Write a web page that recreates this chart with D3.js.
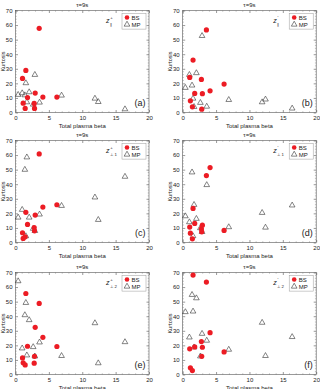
<!DOCTYPE html>
<html><head><meta charset="utf-8">
<script src="https://cdn.jsdelivr.net/npm/d3@7"></script>
<style>body{margin:0;background:#fff}svg{display:block}</style>
</head><body>
<script>
// Total plasma beta of each event (shared by all panels)
const betaBS = [1.05, 1.15, 1.45, 1.55, 1.8, 2.8, 2.85, 2.95, 3.55, 4.1, 6.2];
const betaMP = [0.4, 1.0, 1.4, 1.55, 1.7, 2.05, 2.65, 2.9, 3.6, 6.9, 11.9, 12.4, 16.4];

// Kurtosis values per panel
const kurtBS_a = [23.4, 6.4, 2.8, 28.9, 10.3, 6.2, 2.8, 13.3, 57.8, 10.6, 10.6];
const kurtMP_a = [12.2, 13.3, 11.9, 20.2, 7.1, 14.0, 5.5, 25.9, 6.9, 11.7, 9.6, 7.3, 2.3];
const kurtBS_b = [24.1, 8.0, 3.9, 36.0, 13.1, 22.7, 2.3, 12.9, 56.7, 14.9, 19.5];
const kurtMP_b = [17.0, 25.9, 18.6, 9.6, 3.9, 27.1, 6.7, 52.6, 4.1, 8.7, 7.1, 9.0, 2.8];
const kurtBS_c = [6.7, 2.8, 3.9, 20.7, 12.4, 10.3, 8.0, 18.8, 60.8, 24.3, 25.9];
const kurtMP_c = [17.2, 22.5, 50.0, 4.4, 58.5, 17.2, 9.5, 8.0, 19.3, 25.2, 31.0, 15.6, 45.2];
const kurtBS_d = [10.6, 6.4, 2.5, 23.4, 13.1, 9.4, 7.3, 11.9, 45.9, 51.4, 8.3];
const kurtMP_d = [18.1, 14.0, 48.2, 4.4, 25.9, 16.3, 9.9, 7.3, 39.5, 10.6, 20.4, 10.3, 25.5];
const kurtBS_e = [11.4, 8.0, 6.6, 55.6, 19.4, 7.8, 12.5, 32.4, 48.8, 25.5, 19.2];
const kurtMP_e = [64.1, 18.0, 40.8, 49.2, 13.2, 37.4, 18.9, 12.5, 22.1, 12.8, 35.3, 7.8, 22.3];
const kurtBS_f = [17.6, 4.6, 2.7, 68.2, 18.9, 22.6, 12.5, 18.7, 63.4, 28.7, 15.5];
const kurtMP_f = [42.9, 25.5, 54.7, 43.3, 18.7, 52.4, 12.5, 28.0, 23.3, 17.1, 35.6, 12.8, 25.8];

const panelLetters = ["(a)", "(b)", "(c)", "(d)", "(e)", "(f)"];
const panelSigns = ["+", "\u2032", "+", "\u2032", "+", "\u2032"];
const panelSubs = ["\u2225", "\u2225", "\u22A5 1", "\u22A5 1", "\u22A5 2", "\u22A5 2"];
const bsSets = [kurtBS_a, kurtBS_b, kurtBS_c, kurtBS_d, kurtBS_e, kurtBS_f];
const mpSets = [kurtMP_a, kurtMP_b, kurtMP_c, kurtMP_d, kurtMP_e, kurtMP_f];

const xTicks = [0, 5, 10, 15, 20];
const yTicks = [0, 10, 20, 30, 40, 50, 60, 70];
const titleText = "\u03C4=9s";
const xLabel = "Total plasma beta";
const yLabel = "Kurtosis";
const legendNames = ["BS", "MP"];

const FONT = "'Liberation Sans', Arial, sans-serif";
const RED = "#ec1c24";
const svg = d3.select("body").append("svg").attr("width", 320).attr("height", 389);

const colX = [15.5, 182.7], rowY = [10.5, 140.5, 272.5], W = 133.5, H = 102;
const tri = d3.symbol().type(d3.symbolTriangle).size(14);

bsSets.forEach((bs, i) => {
  const mp = mpSets[i];
  const g = svg.append("g").attr("transform", `translate(${colX[i % 2]},${rowY[Math.floor(i / 2)]})`);
  const x = d3.scaleLinear().domain([0, 20]).range([0, W]);
  const y = d3.scaleLinear().domain([0, 70]).range([H, 0]);

  const styleAxis = sel => {
    sel.select(".domain").remove();
    sel.selectAll("line").attr("stroke", "#555").attr("stroke-width", 0.6);
    sel.selectAll("text").attr("font-family", FONT).attr("font-size", 6).attr("fill", "#222");
  };
  g.append("g").attr("transform", `translate(0,${H})`)
    .call(d3.axisBottom(x).tickValues(xTicks).tickSize(-2.5).tickSizeOuter(0).tickPadding(3.5))
    .call(styleAxis);
  g.append("g")
    .call(d3.axisTop(x).tickValues(xTicks).tickSize(-2.5).tickSizeOuter(0).tickFormat(""))
    .call(styleAxis);
  g.append("g")
    .call(d3.axisLeft(y).tickValues(yTicks).tickSize(-2.5).tickSizeOuter(0).tickPadding(3))
    .call(styleAxis);
  g.append("g").attr("transform", `translate(${W},0)`)
    .call(d3.axisRight(y).tickValues(yTicks).tickSize(-2.5).tickSizeOuter(0).tickFormat(""))
    .call(styleAxis);
  // minor ticks
  const minorX = d3.range(1, 20).filter(v => v % 5 !== 0);
  const minorY = d3.range(2, 70, 2).filter(v => v % 10 !== 0);
  const mg = g.append("g").attr("stroke", "#777").attr("stroke-width", 0.4);
  minorX.forEach(v => {
    mg.append("line").attr("x1", x(v)).attr("x2", x(v)).attr("y1", H).attr("y2", H - 1.3);
    mg.append("line").attr("x1", x(v)).attr("x2", x(v)).attr("y1", 0).attr("y2", 1.3);
  });
  minorY.forEach(v => {
    mg.append("line").attr("x1", 0).attr("x2", 1.3).attr("y1", y(v)).attr("y2", y(v));
    mg.append("line").attr("x1", W).attr("x2", W - 1.3).attr("y1", y(v)).attr("y2", y(v));
  });
  g.append("rect").attr("width", W).attr("height", H).attr("fill", "none")
    .attr("stroke", "#555").attr("stroke-width", 0.6);

  // title and labels
  g.append("text").attr("x", W / 2).attr("y", -4).attr("text-anchor", "middle")
    .attr("font-family", FONT).attr("font-size", 6).attr("fill", "#222").text(titleText);
  g.append("text").attr("x", W / 2).attr("y", H + 15).attr("text-anchor", "middle")
    .attr("font-family", FONT).attr("font-size", 6).attr("fill", "#222").text(xLabel);
  g.append("text").attr("transform", `translate(-11,${H / 2}) rotate(-90)`).attr("text-anchor", "middle")
    .attr("font-family", FONT).attr("font-size", 5.6).attr("fill", "#222").text(yLabel);

  // points
  g.append("g").selectAll("path").data(mp).join("path")
    .attr("d", tri)
    .attr("transform", (d, j) => `translate(${x(betaMP[j])},${y(d)})`)
    .attr("fill", "none").attr("stroke", "#333").attr("stroke-width", 0.6);
  g.append("g").selectAll("circle").data(bs).join("circle")
    .attr("cx", (d, j) => x(betaBS[j])).attr("cy", d => y(d)).attr("r", 2.6)
    .attr("fill", RED);

  // component label: z with superscript sign and subscript component
  const lx = W - 43, ly = 12.5;
  g.append("text").attr("x", lx).attr("y", ly).attr("font-family", FONT)
    .attr("font-size", 7).attr("font-style", "italic").attr("fill", "#222").text("z");
  g.append("text").attr("x", lx + 4.2).attr("y", ly - 3.6).attr("font-family", FONT)
    .attr("font-size", 4.3).attr("fill", "#222").text(panelSigns[i]);
  g.append("text").attr("x", lx + 4.2).attr("y", ly + 2.6).attr("font-family", FONT)
    .attr("font-size", 4.3).attr("fill", "#222").text(panelSubs[i]);

  // legend
  const lg = g.append("g").attr("transform", `translate(${W - 27},2.8)`);
  lg.append("rect").attr("width", 24).attr("height", 15.8).attr("fill", "#fff")
    .attr("stroke", "#999").attr("stroke-width", 0.5);
  lg.append("circle").attr("cx", 5).attr("cy", 4.2).attr("r", 2.3).attr("fill", RED);
  lg.append("path").attr("d", tri).attr("transform", "translate(5,11.2)")
    .attr("fill", "none").attr("stroke", "#333").attr("stroke-width", 0.6);
  legendNames.forEach((n, k) => {
    lg.append("text").attr("x", 9.5).attr("y", 6.3 + k * 7)
      .attr("font-family", FONT).attr("font-size", 6).attr("fill", "#222").text(n);
  });

  // panel letter
  g.append("text").attr("x", W - 3.5).attr("y", H - 7).attr("text-anchor", "end")
    .attr("font-family", FONT).attr("font-size", 9).attr("fill", "#222").text(panelLetters[i]);
});
</script>
</body></html>
